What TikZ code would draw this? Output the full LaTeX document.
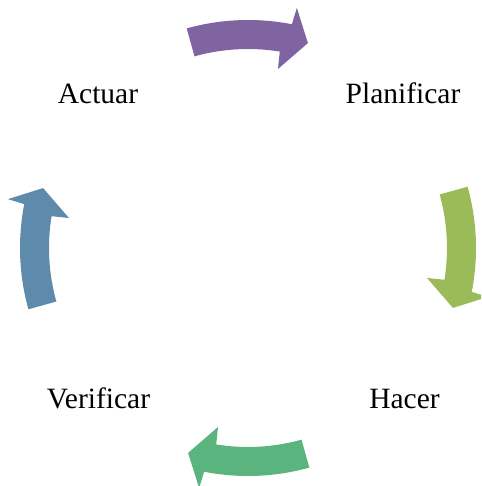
\documentclass[tikz,border=0pt]{standalone}
\usepackage{fontspec}
\setmainfont{Liberation Serif}
\definecolor{cpurple}{HTML}{8064A2}
\definecolor{clime}{HTML}{9BBB59}
\definecolor{cgreen}{HTML}{5BB47E}
\definecolor{cblue}{HTML}{5E8BAB}
\tikzset{
  label/.style={font=\fontsize{29.5}{31}\selectfont, anchor=base, inner sep=0pt},
  cyclearrow/.style={fill=#1, draw=none}
}
% one curved block arrow of the cycle, drawn clockwise around the centre
\newcommand{\cyclearrowshape}[2]{%
  \begin{scope}[shift={(248pt,238pt)}, rotate=#1]
    \fill[cyclearrow=#2]
      (105.6:228pt) arc[start angle=105.6, end angle=78.9, radius=228pt]
      -- (78.5:245pt) -- (73.7:213.5pt) -- (80.5:181.5pt)
      -- (80.8:199pt) arc[start angle=80.8, end angle=105.6, radius=199pt]
      -- cycle;
  \end{scope}}
\begin{document}
\begin{tikzpicture}[x=1pt,y=1pt]
  \useasboundingbox (0,0) rectangle (481,486);
  \clip (0,0) rectangle (481,486);
  \cyclearrowshape{0}{cpurple}
  \cyclearrowshape{-90}{clime}
  \cyclearrowshape{-180}{cgreen}
  \cyclearrowshape{-270}{cblue}
  \node[label] (actuar) at (98,382) {Actuar};
  \node[label] (planificar) at (403,382) {Planificar};
  \node[label] (verificar) at (98.5,77) {Verificar};
  \node[label] (hacer) at (404.5,77) {Hacer};
\end{tikzpicture}
\end{document}
